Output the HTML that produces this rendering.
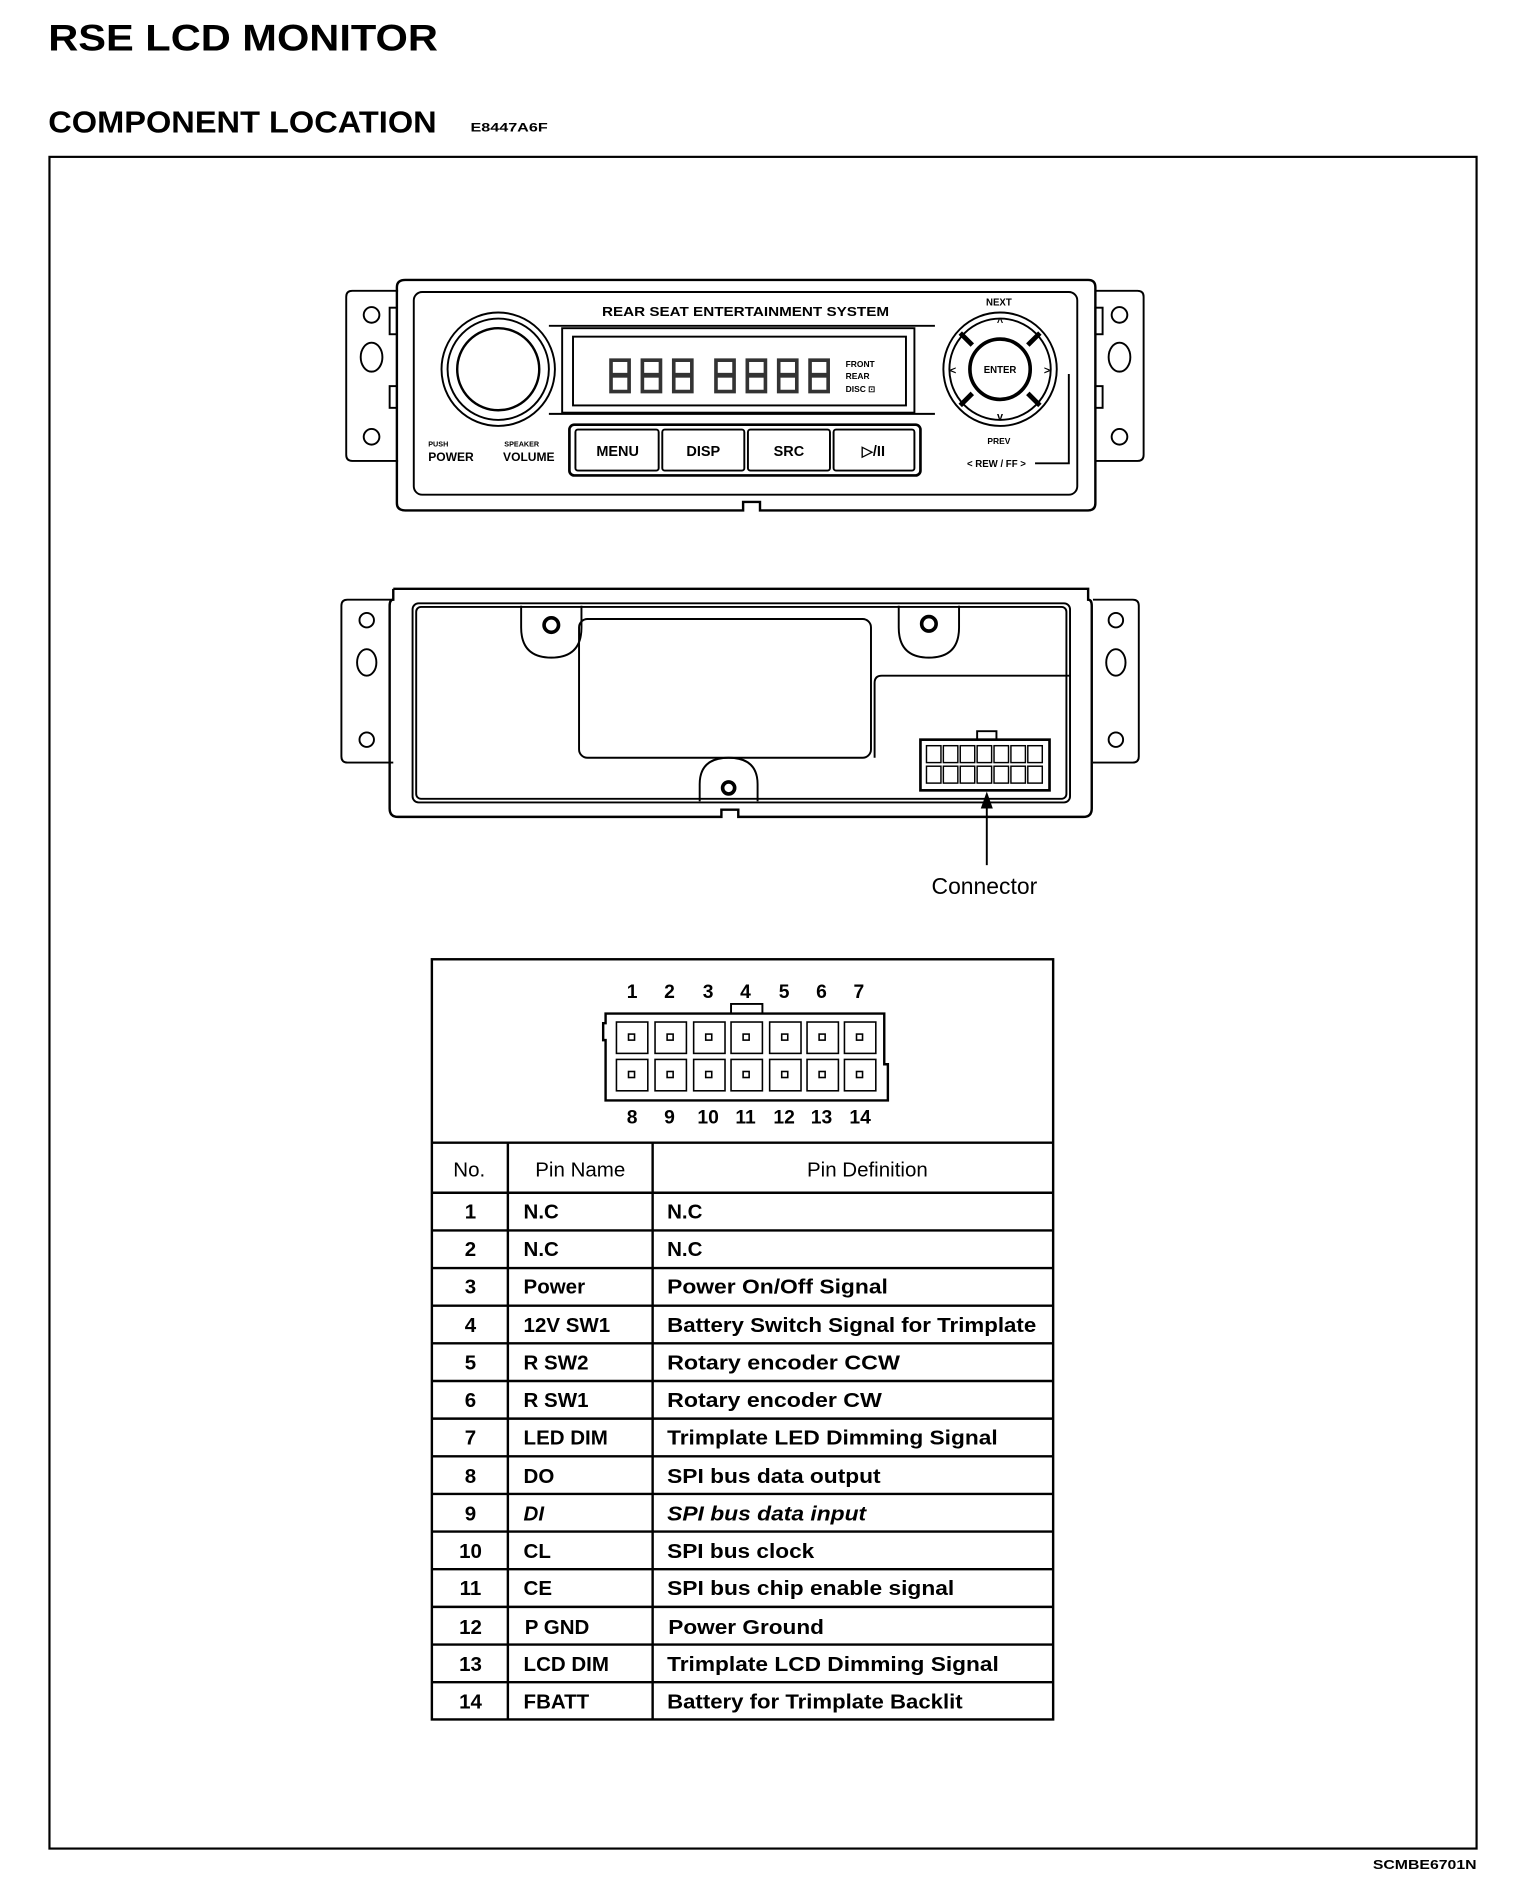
<!DOCTYPE html>
<html><head><meta charset="utf-8"><style>
html,body{margin:0;padding:0;background:#fff;}
svg{display:block;}
text{font-family:"Liberation Sans",Arial,sans-serif;fill:#000;}
</style></head><body>
<svg width="1520" height="1892" viewBox="0 0 1260 1568" preserveAspectRatio="none" xmlns="http://www.w3.org/2000/svg">
<g font-weight="bold">
<text x="40" y="42" font-size="31" textLength="323" lengthAdjust="spacingAndGlyphs">RSE LCD MONITOR</text>
<text x="40" y="110" font-size="25" textLength="322" lengthAdjust="spacingAndGlyphs">COMPONENT LOCATION</text>
<text x="390" y="109" font-size="10" textLength="64" lengthAdjust="spacingAndGlyphs">E8447A6F</text>
<text x="1224" y="1549" font-size="11" text-anchor="end" textLength="86" lengthAdjust="spacingAndGlyphs">SCMBE6701N</text>
</g>
<rect x="41" y="130" width="1183" height="1402" fill="none" stroke="#000" stroke-width="1.8"/>

<!-- FRONT UNIT -->
<g fill="none" stroke="#000" stroke-width="1.6">
<path d="M330 241 H292 Q287 241 287 246 V377 Q287 382 292 382 H330"/>
<path d="M908 241 H943 Q948 241 948 246 V377 Q948 382 943 382 H908"/>
<circle cx="308" cy="261" r="6.5"/><ellipse cx="308" cy="296" rx="9" ry="12"/><circle cx="308" cy="362" r="6.5"/>
<circle cx="928" cy="261" r="6.5"/><ellipse cx="928" cy="296" rx="9" ry="12"/><circle cx="928" cy="362" r="6.5"/>
<path d="M336 232 H902 Q908 232 908 238 V417 Q908 423 902 423 H630 V416 H616 V423 H336 Q329 423 329 417 V238 Q329 232 336 232Z" stroke-width="2"/>
<rect x="343" y="242" width="550" height="168" rx="7"/>
<rect x="323" y="255" width="6" height="22"/><rect x="323" y="320" width="6" height="18"/>
<rect x="908" y="255" width="6" height="22"/><rect x="908" y="320" width="6" height="18"/>
<circle cx="413" cy="306" r="47"/><circle cx="413" cy="306" r="42"/><circle cx="413" cy="306" r="34" stroke-width="2"/>
<path d="M455 270 H775 M455 343 H775"/>
<rect x="466" y="272" width="292" height="70"/>
<rect x="475" y="279" width="276" height="57"/>
<rect x="472" y="352" width="291" height="42" rx="4" stroke-width="2.2"/>
<rect x="477" y="356" width="69" height="34" rx="2"/><rect x="549" y="356" width="68" height="34" rx="2"/>
<rect x="620" y="356" width="68" height="34" rx="2"/><rect x="691" y="356" width="67" height="34" rx="2"/>
<circle cx="829" cy="306" r="47"/><circle cx="829" cy="306" r="42"/><circle cx="829" cy="306" r="25" stroke-width="3"/>
<path d="M806 286 L796 276 M852 286 L862 276 M806 326 L796 336 M852 326 L862 336" stroke-width="4"/>
<path d="M858 384 H886 V310"/>
</g>
<g fill="#333">
<rect x="505" y="297" width="18" height="29"/><rect x="531" y="297" width="18" height="29"/><rect x="557" y="297" width="18" height="29"/>
<rect x="592" y="297" width="18" height="29"/><rect x="618" y="297" width="18" height="29"/><rect x="644" y="297" width="18" height="29"/><rect x="670" y="297" width="18" height="29"/>
</g>
<g fill="#fff"><rect x="508" y="300" width="12" height="9"/><rect x="508" y="313" width="12" height="10"/>
<rect x="534" y="300" width="12" height="9"/><rect x="534" y="313" width="12" height="10"/>
<rect x="560" y="300" width="12" height="9"/><rect x="560" y="313" width="12" height="10"/>
<rect x="595" y="300" width="12" height="9"/><rect x="595" y="313" width="12" height="10"/>
<rect x="621" y="300" width="12" height="9"/><rect x="621" y="313" width="12" height="10"/>
<rect x="647" y="300" width="12" height="9"/><rect x="647" y="313" width="12" height="10"/>
<rect x="673" y="300" width="12" height="9"/><rect x="673" y="313" width="12" height="10"/></g>
<g font-weight="bold">
<text x="618" y="262" font-size="11" text-anchor="middle" textLength="238" lengthAdjust="spacingAndGlyphs">REAR SEAT ENTERTAINMENT SYSTEM</text>
<text x="701" y="304" font-size="7">FRONT</text><text x="701" y="314" font-size="7">REAR</text><text x="701" y="325" font-size="7">DISC ⊡</text>
<text x="355" y="370" font-size="6">PUSH</text><text x="355" y="382" font-size="10">POWER</text>
<text x="418" y="370" font-size="6">SPEAKER</text><text x="417" y="382" font-size="10">VOLUME</text>
<text x="512" y="378" font-size="12" text-anchor="middle">MENU</text>
<text x="583" y="378" font-size="12" text-anchor="middle">DISP</text>
<text x="654" y="378" font-size="12" text-anchor="middle">SRC</text>
<text x="724" y="378" font-size="12" text-anchor="middle">▷/II</text>
<text x="829" y="309" font-size="8" text-anchor="middle">ENTER</text>
<text x="828" y="253" font-size="8" text-anchor="middle">NEXT</text>
<text x="828" y="368" font-size="7" text-anchor="middle">PREV</text>
<text x="826" y="387" font-size="8" text-anchor="middle">&lt; REW / FF &gt;</text>
<text x="829" y="270" font-size="9" text-anchor="middle">^</text>
<text x="829" y="348" font-size="9" text-anchor="middle">v</text>
<text x="790" y="310" font-size="9" text-anchor="middle">&lt;</text>
<text x="868" y="310" font-size="9" text-anchor="middle">&gt;</text>
</g>

<!-- REAR UNIT -->
<g fill="none" stroke="#000" stroke-width="1.6">
<path d="M326 497 H288 Q283 497 283 502 V627 Q283 632 288 632 H326"/>
<path d="M906 497 H939 Q944 497 944 502 V627 Q944 632 939 632 H906"/>
<circle cx="304" cy="514" r="6"/><ellipse cx="304" cy="549" rx="8" ry="11"/><circle cx="304" cy="613" r="6"/>
<circle cx="925" cy="514" r="6"/><ellipse cx="925" cy="549" rx="8" ry="11"/><circle cx="925" cy="613" r="6"/>
<path d="M326 488 H902 V497 Q905 497 905 502 V670 Q905 677 898 677 H612 V671 H598 V677 H330 Q323 677 323 670 V502 Q323 497 326 497 V488" stroke-width="2"/>
<rect x="342" y="500" width="545" height="165" rx="5"/>
<rect x="345" y="503" width="539" height="159" rx="4"/>
<rect x="480" y="513" width="242" height="115" rx="7"/>
<path d="M725 628 V566 Q725 560 731 560 H887"/>
<path d="M432 502 V520 Q432 545 457 545 Q482 545 482 520 V502"/>
<circle cx="457" cy="518" r="6" stroke-width="3"/>
<path d="M745 502 V520 Q745 545 770 545 Q795 545 795 520 V502"/>
<circle cx="770" cy="517" r="6" stroke-width="3"/>
<path d="M580 664 V650 Q580 628 604 628 Q628 628 628 650 V664"/>
<circle cx="604" cy="653" r="5" stroke-width="3"/>
<rect x="763" y="613" width="107" height="42" stroke-width="2.2"/>
<path d="M810 613 V606 H826 V613"/>
</g>
<g fill="none" stroke="#000" stroke-width="1.2">
<rect x="768" y="618" width="12" height="14"/><rect x="782" y="618" width="12" height="14"/><rect x="796" y="618" width="12" height="14"/><rect x="810" y="618" width="12" height="14"/><rect x="824" y="618" width="12" height="14"/><rect x="838" y="618" width="12" height="14"/><rect x="852" y="618" width="12" height="14"/>
<rect x="768" y="635" width="12" height="14"/><rect x="782" y="635" width="12" height="14"/><rect x="796" y="635" width="12" height="14"/><rect x="810" y="635" width="12" height="14"/><rect x="824" y="635" width="12" height="14"/><rect x="838" y="635" width="12" height="14"/><rect x="852" y="635" width="12" height="14"/>
</g>
<line x1="818" y1="717" x2="818" y2="665" stroke="#000" stroke-width="1.6"/>
<path d="M818 656 L813 670 L823 670Z" fill="#000"/>
<text x="816" y="741" font-size="19" text-anchor="middle">Connector</text>

<!-- TABLE -->
<g fill="none" stroke="#000" stroke-width="2">
<rect x="358" y="795" width="515" height="630"/>
<line x1="358" y1="947" x2="873" y2="947"/>
<line x1="421" y1="947" x2="421" y2="1425"/>
<line x1="541" y1="947" x2="541" y2="1425"/>
<path d="M358 988.5H873M358 1019.7H873M358 1050.9H873M358 1082.1H873M358 1113.3H873M358 1144.5H873M358 1175.7H873M358 1206.9H873M358 1238.1H873M358 1269.3H873M358 1300.5H873M358 1331.7H873M358 1362.9H873M358 1394.1H873"/>
<path d="M506 840 H733 V882 H736 V912 H502 V862 H500 V848 H502 V840Z"/>
<path d="M606 840 V832 H632 V840" stroke-width="1.6"/>
</g>
<g fill="none" stroke="#000" stroke-width="1.3">
<rect x="511" y="847" width="26" height="26"/><rect x="543" y="847" width="26" height="26"/><rect x="575" y="847" width="26" height="26"/><rect x="606" y="847" width="26" height="26"/><rect x="638" y="847" width="26" height="26"/><rect x="669" y="847" width="26" height="26"/><rect x="700" y="847" width="26" height="26"/>
<rect x="511" y="878" width="26" height="26"/><rect x="543" y="878" width="26" height="26"/><rect x="575" y="878" width="26" height="26"/><rect x="606" y="878" width="26" height="26"/><rect x="638" y="878" width="26" height="26"/><rect x="669" y="878" width="26" height="26"/><rect x="700" y="878" width="26" height="26"/>
<rect x="521" y="857" width="5" height="5"/><rect x="553" y="857" width="5" height="5"/><rect x="585" y="857" width="5" height="5"/><rect x="616" y="857" width="5" height="5"/><rect x="648" y="857" width="5" height="5"/><rect x="679" y="857" width="5" height="5"/><rect x="710" y="857" width="5" height="5"/>
<rect x="521" y="888" width="5" height="5"/><rect x="553" y="888" width="5" height="5"/><rect x="585" y="888" width="5" height="5"/><rect x="616" y="888" width="5" height="5"/><rect x="648" y="888" width="5" height="5"/><rect x="679" y="888" width="5" height="5"/><rect x="710" y="888" width="5" height="5"/>
</g>
<g font-size="16" font-weight="bold" text-anchor="middle">
<text x="524" y="827">1</text><text x="555" y="827">2</text><text x="587" y="827">3</text><text x="618" y="827">4</text><text x="650" y="827">5</text><text x="681" y="827">6</text><text x="712" y="827">7</text>
<text x="524" y="931">8</text><text x="555" y="931">9</text><text x="587" y="931">10</text><text x="618" y="931">11</text><text x="650" y="931">12</text><text x="681" y="931">13</text><text x="713" y="931">14</text>
</g>
<g font-size="17">
<text x="389" y="975" text-anchor="middle">No.</text>
<text x="481" y="975" text-anchor="middle">Pin Name</text>
<text x="719" y="975" text-anchor="middle">Pin Definition</text>
</g>
<g font-size="17" font-weight="bold">
<g text-anchor="middle">
<text x="390" y="1010">1</text><text x="390" y="1041">2</text><text x="390" y="1072">3</text><text x="390" y="1104">4</text><text x="390" y="1135">5</text><text x="390" y="1166">6</text><text x="390" y="1197">7</text><text x="390" y="1229">8</text><text x="390" y="1260">9</text><text x="390" y="1291">10</text><text x="390" y="1322">11</text><text x="390" y="1354">12</text><text x="390" y="1385">13</text><text x="390" y="1416">14</text>
</g>
<text x="434" y="1010">N.C</text><text x="434" y="1041">N.C</text><text x="434" y="1072">Power</text><text x="434" y="1104">12V SW1</text><text x="434" y="1135">R SW2</text><text x="434" y="1166">R SW1</text><text x="434" y="1197">LED DIM</text><text x="434" y="1229">DO</text><text x="434" y="1260" font-style="italic">DI</text><text x="434" y="1291">CL</text><text x="434" y="1322">CE</text><text x="435" y="1354">P GND</text><text x="434" y="1385">LCD DIM</text><text x="434" y="1416">FBATT</text>
<text x="553" y="1010">N.C</text><text x="553" y="1041">N.C</text>
<text x="553" y="1072" textLength="183" lengthAdjust="spacingAndGlyphs">Power On/Off Signal</text>
<text x="553" y="1104" textLength="306" lengthAdjust="spacingAndGlyphs">Battery Switch Signal for Trimplate</text>
<text x="553" y="1135" textLength="193" lengthAdjust="spacingAndGlyphs">Rotary encoder CCW</text>
<text x="553" y="1166" textLength="178" lengthAdjust="spacingAndGlyphs">Rotary encoder CW</text>
<text x="553" y="1197" textLength="274" lengthAdjust="spacingAndGlyphs">Trimplate LED Dimming Signal</text>
<text x="553" y="1229" textLength="177" lengthAdjust="spacingAndGlyphs">SPI bus data output</text>
<text x="553" y="1260" textLength="165" lengthAdjust="spacingAndGlyphs" font-style="italic">SPI bus data input</text>
<text x="553" y="1291" textLength="122" lengthAdjust="spacingAndGlyphs">SPI bus clock</text>
<text x="553" y="1322" textLength="238" lengthAdjust="spacingAndGlyphs">SPI bus chip enable signal</text>
<text x="554" y="1354" textLength="129" lengthAdjust="spacingAndGlyphs">Power Ground</text>
<text x="553" y="1385" textLength="275" lengthAdjust="spacingAndGlyphs">Trimplate LCD Dimming Signal</text>
<text x="553" y="1416" textLength="245" lengthAdjust="spacingAndGlyphs">Battery for Trimplate Backlit</text>
</g>
</svg>
</body></html>
